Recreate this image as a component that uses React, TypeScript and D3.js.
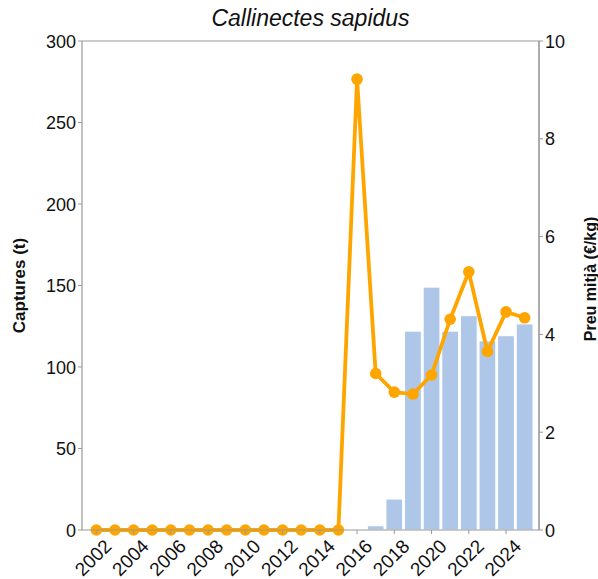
import { scaleLinear } from 'd3'

const years = [2002, 2003, 2004, 2005, 2006, 2007, 2008, 2009, 2010, 2011, 2012, 2013, 2014, 2015, 2016, 2017, 2018, 2019, 2020, 2021, 2022, 2023, 2024, 2025]
const captures = [0, 0, 0, 0, 0, 0, 0, 0, 0, 0, 0, 0, 0, 0, 0, 2.6, 19, 122, 149, 122, 131.5, 116, 119.2, 126.4]
const prices = [0, 0, 0, 0, 0, 0, 0, 0, 0, 0, 0, 0, 0, 0, 9.22, 3.2, 2.82, 2.78, 3.17, 4.31, 5.28, 3.65, 4.46, 4.34]
const leftTicks = [0, 50, 100, 150, 200, 250, 300]
const rightTicks = [0, 2, 4, 6, 8, 10]
const xTicks = [2002, 2004, 2006, 2008, 2010, 2012, 2014, 2016, 2018, 2020, 2022, 2024]

export default function App() {
  const width = 598
  const height = 579
  const left = 82
  const right = 539
  const top = 41
  const bottom = 530
  const font = "'Liberation Sans', Arial, sans-serif"
  const axisColor = '#999'

  const x = scaleLinear().domain([2001.23, 2025.77]).range([left, right])
  const yL = scaleLinear().domain([0, 300]).range([bottom, top])
  const yR = scaleLinear().domain([0, 10]).range([bottom, top])
  const barW = (x(1) - x(0)) * 0.9

  const linePts = years.map((yr, i) => `${x(yr)},${yR(prices[i])}`).join(' ')

  return (
    <svg width={width} height={height} style={{ position: 'absolute', left: 0, top: 0 }} fontFamily={font}>
      <rect width={width} height={height} fill="white" />
      {years.map((yr, i) =>
        captures[i] > 0 ? (
          <rect
            key={`b-${yr}`}
            x={x(yr) - barW / 2}
            y={yL(captures[i])}
            width={barW}
            height={bottom - yL(captures[i])}
            fill="#aec7e8"
            stroke="white"
            strokeWidth={1}
          />
        ) : null,
      )}
      <polyline points={linePts} fill="none" stroke="#ffa500" strokeWidth={3.8} strokeLinejoin="round" />
      {years.map((yr, i) => (
        <circle key={`p-${yr}`} cx={x(yr)} cy={yR(prices[i])} r={5.8} fill="#ffa500" />
      ))}
      {/* spines */}
      <line x1={left} y1={top} x2={right} y2={top} stroke={axisColor} strokeWidth={1.2} />
      <line x1={left} y1={bottom} x2={right} y2={bottom} stroke={axisColor} strokeWidth={1.2} />
      <line x1={left} y1={top} x2={left} y2={bottom} stroke={axisColor} strokeWidth={1.2} />
      <line x1={right} y1={top} x2={right} y2={bottom} stroke={axisColor} strokeWidth={1.6} />
      {leftTicks.map((t) => (
        <g key={`l-${t}`}>
          <line x1={left - 4} x2={left} y1={yL(t)} y2={yL(t)} stroke={axisColor} />
          <text x={left - 6} y={yL(t) + 6.5} textAnchor="end" fontSize={18} fill="#111">{t}</text>
        </g>
      ))}
      {rightTicks.map((t) => (
        <g key={`r-${t}`}>
          <line x1={right} x2={right + 4} y1={yR(t)} y2={yR(t)} stroke={axisColor} />
          <text x={right + 6} y={yR(t) + 6.5} fontSize={18} fill="#111">{t}</text>
        </g>
      ))}
      {xTicks.map((t) => (
        <g key={`x-${t}`}>
          <line x1={x(t)} x2={x(t)} y1={bottom} y2={bottom + 4} stroke={axisColor} />
          <text
            transform={`translate(${x(t) + 7},${bottom + 8}) rotate(-45)`}
            textAnchor="end"
            dy="0.7em"
            fontSize={19}
            fill="#111"
          >
            {t}
          </text>
        </g>
      ))}
      <text x={310.5} y={26} textAnchor="middle" fontSize={23} fontStyle="italic" fill="#111">
        Callinectes sapidus
      </text>
      <text transform={`translate(25,${(top + bottom) / 2}) rotate(-90)`} textAnchor="middle" fontSize={17} fontWeight="bold" fill="#111">
        Captures (t)
      </text>
      <text transform={`translate(596,279) rotate(-90)`} textAnchor="middle" fontSize={16} fontWeight="bold" fill="#111">
        Preu mitjà (€/kg)
      </text>
    </svg>
  )
}
